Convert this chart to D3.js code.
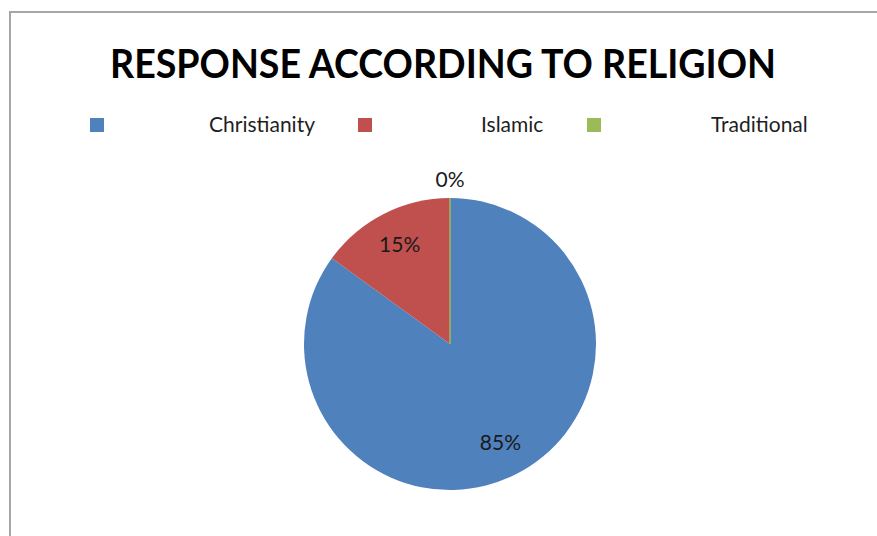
<!DOCTYPE html>
<html>
<head>
<meta charset="utf-8">
<script src="https://cdn.jsdelivr.net/npm/d3@7"></script>
<style>
  body { margin: 0; background: #fff; }
  svg { display: block; }
</style>
</head>
<body>
<svg width="877" height="536"></svg>
<script>
// data
var categories = ['Christianity', 'Islamic', 'Traditional'];
var values = [85, 15, 0];
var colors = ['#4f81bd', '#c0504d', '#9bbb59'];
var title = 'RESPONSE ACCORDING TO RELIGION';

var svg = d3.select('svg');
var font = 'Lato, sans-serif';

// frame lines (chart area border, top and left only visible)
svg.append('line').attr('x1', 9).attr('y1', 12).attr('x2', 877).attr('y2', 12)
  .attr('stroke', '#a6a6a6').attr('stroke-width', 2);
svg.append('line').attr('x1', 10).attr('y1', 11).attr('x2', 10).attr('y2', 536)
  .attr('stroke', '#a6a6a6').attr('stroke-width', 2);

// title
svg.append('text')
  .attr('x', 443).attr('y', 78)
  .attr('text-anchor', 'middle')
  .attr('font-family', font).attr('font-weight', 'bold')
  .attr('font-size', 41)
  .attr('textLength', 666).attr('lengthAdjust', 'spacingAndGlyphs')
  .attr('fill', '#000')
  .text(title);

// legend
var legendBoxX = [90, 358, 587];
var legendTextX = [209, 481, 711];
var legend = svg.append('g').attr('id', 'legend');
categories.forEach(function(c, i){
  legend.append('rect')
    .attr('x', legendBoxX[i]).attr('y', 118)
    .attr('width', 14).attr('height', 14)
    .attr('fill', colors[i]);
  legend.append('text')
    .attr('x', legendTextX[i]).attr('y', 132)
    .attr('font-family', font).attr('font-size', 21)
    .attr('fill', '#1f1f1f')
    .text(c);
});

// pie
var cx = 450, cy = 344, r = 146;
var color = d3.scaleOrdinal().domain(categories).range(colors);
var pie = d3.pie().sort(null).value(function(d){ return d.value; });
var arcs = pie(categories.map(function(c, i){ return {name: c, value: values[i]}; }));
var arc = d3.arc().innerRadius(0).outerRadius(r);
var labelArc = d3.arc().innerRadius(r * 0.76).outerRadius(r * 0.76);
var outerArc = d3.arc().innerRadius(r + 18).outerRadius(r + 18);

var g = svg.append('g').attr('transform', 'translate(' + cx + ',' + cy + ')');
g.selectAll('path.slice').data(arcs).enter().append('path')
  .attr('class', 'slice')
  .attr('d', arc)
  .attr('fill', function(d){ return color(d.data.name); })
  .attr('stroke', function(d){ return d.data.value === 0 ? color(d.data.name) : 'none'; })
  .attr('stroke-width', 1.5);

g.selectAll('text.lbl').data(arcs).enter().append('text')
  .attr('class', 'lbl')
  .attr('transform', function(d){
    var p = d.data.value === 0 ? outerArc.centroid(d) : labelArc.centroid(d);
    return 'translate(' + p[0] + ',' + p[1] + ')';
  })
  .attr('dy', '0.35em')
  .attr('text-anchor', 'middle')
  .attr('font-family', font).attr('font-size', 21)
  .attr('fill', '#1a1a1a')
  .text(function(d){ return d.data.value + '%'; });
</script>
</body>
</html>
